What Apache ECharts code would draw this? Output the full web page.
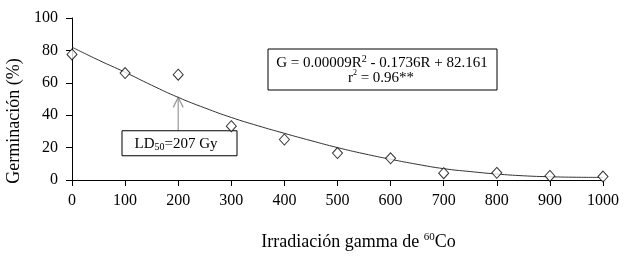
<!DOCTYPE html>
<html>
<head>
<meta charset="utf-8">
<script src="https://cdn.jsdelivr.net/npm/echarts@6/dist/echarts.min.js"></script>
<style>
  html, body { margin: 0; padding: 0; background: #fff; }
  #chart { width: 627px; height: 260px; }
</style>
</head>
<body>
<div id="chart"></div>
<script>
"use strict"

// 观测值
let doseArr = [0, 100, 200, 300, 400, 500, 600, 700, 800, 900, 1000];
let germArr = [77.5, 66, 65, 33.2, 25, 16.6, 13.4, 4.2, 4.4, 2.5, 2.1];

// 趋势线
let curveX = [0, 50, 100, 150, 200, 250, 300, 350, 400, 450, 500, 550, 600, 650, 700, 750, 800, 850, 900, 950, 1000];
let curveY = [82, 74, 66.5, 58.5, 51, 44.5, 38.6, 33.5, 28.8, 24.3, 20, 16.2, 12.8, 9.7, 7, 5.2, 3.7, 2.6, 2, 1.7, 1.6];

// 刻度
let xTicks = [0, 100, 200, 300, 400, 500, 600, 700, 800, 900, 1000];
let yTicks = [0, 20, 40, 60, 80, 100];

// 注释
let ldDose = 200;
let ldArrowFrom = 30.4;
let ldArrowTo = 51;

const FONT = "Liberation Serif";

var myChart = echarts.init(document.getElementById("chart"), null, { renderer: "canvas" });

var option = {
    animation: false,
    backgroundColor: "#fff",
    grid: { left: 72, right: 24, top: 18, bottom: 80, containLabel: false, outerBoundsMode: "none" },
    xAxis: {
        type: "value",
        min: xTicks[0],
        max: xTicks[xTicks.length - 1],
        interval: 100,
        splitLine: { show: false },
        axisLine: { lineStyle: { color: "#000", width: 1 } },
        axisTick: { length: 6, lineStyle: { color: "#000" } },
        axisLabel: { color: "#000", fontFamily: FONT, fontSize: 16, margin: 13, formatter: (v) => String(v) },
        name: "{a|Irradiación gamma de }{s|60}{a|Co}",
        nameLocation: "middle",
        nameGap: 52,
        nameTextStyle: {
            padding: [0, 0, 0, 42],
            rich: {
                a: { fontFamily: FONT, fontSize: 18, color: "#000", lineHeight: 20 },
                s: { fontFamily: FONT, fontSize: 11, color: "#000", lineHeight: 12, verticalAlign: "top" }
            }
        }
    },
    yAxis: {
        type: "value",
        min: yTicks[0],
        max: yTicks[yTicks.length - 1],
        interval: 20,
        splitLine: { show: false },
        axisLine: { show: true, lineStyle: { color: "#000", width: 1 } },
        axisTick: { show: true, length: 6, lineStyle: { color: "#000" } },
        axisLabel: { color: "#000", fontFamily: FONT, fontSize: 16, margin: 14 },
        name: "Germinación (%)",
        nameLocation: "middle",
        nameGap: 46,
        nameTextStyle: { fontFamily: FONT, fontSize: 18, color: "#000", padding: [0, 44, 0, 0] }
    },
    series: [{
            name: "curva",
            type: "line",
            smooth: true,
            showSymbol: false,
            data: curveX.map((x, i) => [x, curveY[i]]),
            lineStyle: { color: "#333", width: 1 },
            z: 2
        },
        {
            name: "germinación",
            type: "scatter",
            symbol: "diamond",
            symbolSize: [10, 11],
            data: doseArr.map((x, i) => [x, germArr[i]]),
            itemStyle: { color: "#fff", borderColor: "#000", borderWidth: 1 },
            z: 3
        }
    ]
};
myChart.setOption(option);

// 注释框与箭头
function addNotes() {
    let tip = myChart.convertToPixel({ gridIndex: 0 }, [ldDose, ldArrowTo]);
    let base = myChart.convertToPixel({ gridIndex: 0 }, [ldDose, ldArrowFrom]);
    myChart.setOption({
        graphic: [{
                type: "line",
                shape: { x1: base[0], y1: base[1], x2: tip[0], y2: tip[1] },
                style: { stroke: "#999", lineWidth: 1.2 }
            },
            {
                type: "polyline",
                shape: { points: [[tip[0] - 5, tip[1] + 10], [tip[0], tip[1]], [tip[0] + 5, tip[1] + 10]] },
                style: { stroke: "#999", lineWidth: 1.2, fill: null }
            },
            {
                type: "rect",
                shape: { x: 122, y: base[1], width: 115, height: 25 },
                style: { fill: "#fff", stroke: "#000", lineWidth: 1 }
            },
            {
                type: "text",
                x: 176,
                y: base[1] + 13,
                style: {
                    text: "{a|LD}{b|50}{a|=207 Gy}",
                    align: "center",
                    verticalAlign: "middle",
                    rich: {
                        a: { fontFamily: FONT, fontSize: 15, fill: "#000", lineHeight: 18 },
                        b: { fontFamily: FONT, fontSize: 10, fill: "#000", lineHeight: 9, verticalAlign: "bottom" }
                    }
                }
            },
            {
                type: "rect",
                shape: { x: 268, y: 49, width: 229, height: 41 },
                style: { fill: "#fff", stroke: "#000", lineWidth: 1 }
            },
            {
                type: "text",
                x: 382,
                y: 63,
                style: {
                    text: "{a|G = 0.00009R}{s|2}{a| - 0.1736R + 82.161}",
                    align: "center",
                    verticalAlign: "middle",
                    rich: {
                        a: { fontFamily: FONT, fontSize: 15, fill: "#000", lineHeight: 18 },
                        s: { fontFamily: FONT, fontSize: 10, fill: "#000", lineHeight: 11, verticalAlign: "top" }
                    }
                }
            },
            {
                type: "text",
                x: 381,
                y: 78,
                style: {
                    text: "{a|r}{s|2}{a| = 0.96**}",
                    align: "center",
                    verticalAlign: "middle",
                    rich: {
                        a: { fontFamily: FONT, fontSize: 15, fill: "#000", lineHeight: 18 },
                        s: { fontFamily: FONT, fontSize: 8, fill: "#000", lineHeight: 10, verticalAlign: "top" }
                    }
                }
            }
        ]
    });
}
addNotes();
</script>
</body>
</html>
